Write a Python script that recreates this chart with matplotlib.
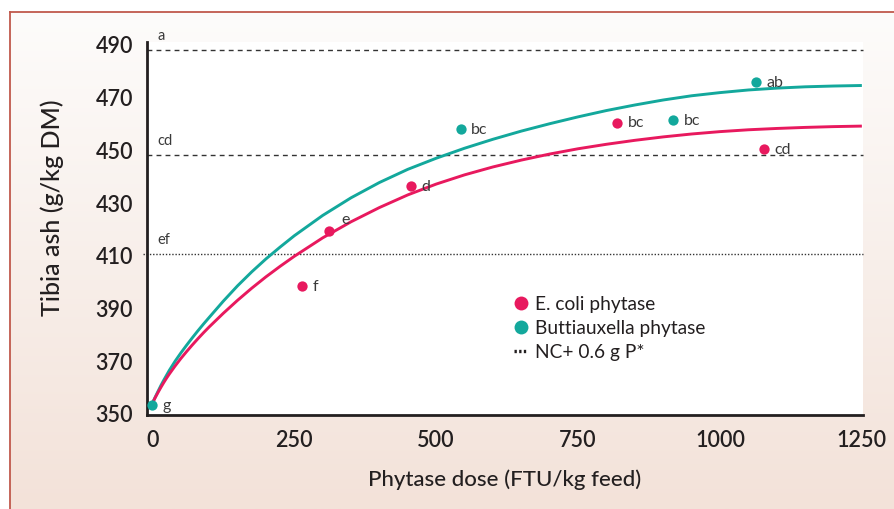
import numpy as np
import matplotlib
matplotlib.use("Agg")
import matplotlib.pyplot as plt
from matplotlib.lines import Line2D
from matplotlib.colors import LinearSegmentedColormap

# ---------------- data ----------------
dose_ecoli = [264, 311, 456, 819, 1077]
ash_ecoli = [398.6, 419.5, 436.5, 460.5, 450.5]
letters_ecoli = ["f", "e", "d", "bc", "cd"]

dose_butti = [0, 543, 918, 1063]
ash_butti = [353.4, 458.1, 461.5, 475.8]
letters_butti = ["g", "bc", "bc", "ab"]

curve_dose = [0, 5, 10, 15, 20, 25, 30, 40, 50, 60, 70, 80, 90, 100, 125, 150,
              175, 200, 225, 250, 300, 350, 400, 450, 500, 550, 600, 650, 700,
              750, 800, 850, 900, 950, 1000, 1050, 1100, 1150, 1200, 1250]
curve_ecoli = [354.1, 356.2, 358.2, 360.1, 361.9, 363.6, 365.2, 368.2, 371.0,
               373.6, 376.1, 378.5, 380.8, 383.0, 388.2, 393.1, 397.7, 402.0,
               406.0, 409.8, 416.8, 422.9, 428.3, 433.1, 437.2, 440.7, 443.7,
               446.3, 448.6, 450.6, 452.3, 453.8, 455.1, 456.2, 457.1, 457.8,
               458.3, 458.7, 459.0, 459.2]
curve_butti = [354.1, 356.4, 358.6, 360.8, 362.8, 364.7, 366.6, 370.0, 373.1,
               376.0, 378.8, 381.5, 384.1, 386.6, 392.8, 398.6, 403.9, 408.8,
               413.3, 417.6, 425.3, 432.0, 437.8, 442.8, 447.0, 450.8, 454.2,
               457.3, 460.1, 462.7, 465.1, 467.2, 469.1, 470.7, 471.9, 472.9,
               473.6, 474.1, 474.4, 474.6]

ref_levels = [488.1, 448.3, 410.6]
ref_letters = ["a", "cd", "ef"]

x_ticks = [0, 250, 500, 750, 1000, 1250]
y_ticks = [350, 370, 390, 410, 430, 450, 470, 490]

legend_labels = ["E. coli phytase", "Buttiauxella phytase", "NC+ 0.6 g P*"]

# ---------------- style ----------------
PINK = "#e8195e"
TEAL = "#13a89c"
TXT = "#231f20"
LBL = "#3a3a3a"
FONT = ["Lato", "DejaVu Sans"]
plt.rcParams["font.family"] = FONT

W, H = 895, 509
fig = plt.figure(figsize=(W / 100, H / 100), dpi=100)
fig.patch.set_facecolor("white")

# background panel with gradient
bx0, by1 = 10, 12
bg = fig.add_axes([bx0 / W, 0, 1 - bx0 / W, 1 - by1 / H], zorder=-10)
cmap = LinearSegmentedColormap.from_list("bgc", ["#fdfcfb", "#f3e2d9"])
grad = np.linspace(0, 1, 256).reshape(-1, 1)
bg.imshow(grad, aspect="auto", cmap=cmap, extent=[0, 1, 0, 1], origin="upper")
bg.set_axis_off()
border_col = "#c0594c"
fig.add_artist(Line2D([bx0 / W, bx0 / W], [0, 1 - by1 / H], transform=fig.transFigure,
                      color=border_col, lw=1.3))
fig.add_artist(Line2D([bx0 / W, 1], [1 - by1 / H, 1 - by1 / H], transform=fig.transFigure,
                      color=border_col, lw=1.3))

# main axes
L, R, T, B = 147, 863, 42, 415
ax = fig.add_axes([L / W, 1 - B / H, (R - L) / W, (B - T) / H], zorder=1)
ax.set_facecolor("white")
ax.set_xlim(-9.5, 1252)
ax.set_ylim(349.6, 491.1)

for s in ["top", "right"]:
    ax.spines[s].set_visible(False)
for s in ["left", "bottom"]:
    ax.spines[s].set_linewidth(2.0)
    ax.spines[s].set_color(TXT)

ax.set_xticks(x_ticks)
ax.set_yticks(y_ticks)
ax.tick_params(axis="both", length=0, labelsize=15.5, colors=TXT)
ax.tick_params(axis="x", pad=11)
ax.tick_params(axis="y", pad=10)
for t in ax.get_xticklabels() + ax.get_yticklabels():
    t.set_fontweight("semibold")

# reference lines
ref_styles = [(0, (3.5, 3.0)), (0, (3.5, 3.0)), (0, (1.0, 1.3))]
for lev, let, ls in zip(ref_levels, ref_letters, ref_styles):
    ax.axhline(lev, xmin=-0.006 if let == "ef" else 0, xmax=1, color="#333333",
               lw=1.0, ls=ls, clip_on=False, zorder=2)
    ax.annotate(let, xy=(0, lev), xycoords=("axes fraction", "data"),
                xytext=(7.5, 10), textcoords="offset points", ha="left", va="center",
                fontsize=10.5, color=LBL, annotation_clip=False)

# curves
ax.plot(curve_dose, curve_butti, color=TEAL, lw=2.1, zorder=3, solid_capstyle="butt",
        solid_joinstyle="round")
ax.plot(curve_dose, curve_ecoli, color=PINK, lw=2.1, zorder=4, solid_capstyle="butt",
        solid_joinstyle="round")

# points
ax.scatter(dose_butti, ash_butti, s=55, color=TEAL, zorder=5, clip_on=False, linewidths=0)
ax.scatter(dose_ecoli, ash_ecoli, s=55, color=PINK, zorder=5, clip_on=False, linewidths=0)

def lab_offset(letter):
    if letter == "e":
        return (9, 8)
    return (7.5, -0.5)

for d, v, t in zip(dose_ecoli, ash_ecoli, letters_ecoli):
    ax.annotate(t, xy=(d, v), xytext=lab_offset(t), textcoords="offset points",
                ha="left", va="center", fontsize=11.5, color=LBL, zorder=6)
for d, v, t in zip(dose_butti, ash_butti, letters_butti):
    ax.annotate(t, xy=(d, v), xytext=lab_offset(t), textcoords="offset points",
                ha="left", va="center", fontsize=11.5, color=LBL, zorder=6)

# axis labels
ax.set_xlabel("Phytase dose (FTU/kg feed)", fontsize=16, color=TXT, fontweight="medium")
ax.xaxis.set_label_coords(0.5, -0.174)
ax.xaxis.label.set_va("center")
ax.set_ylabel("Tibia ash (g/kg DM)", fontsize=18, color=TXT, fontweight="medium")
ax.yaxis.set_label_coords(-0.1327, 0.556)
ax.yaxis.label.set_va("center")

# legend
handles = [
    Line2D([], [], ls="none", marker="o", ms=10, color=PINK, mec="none"),
    Line2D([], [], ls="none", marker="o", ms=10, color=TEAL, mec="none"),
    Line2D([], [], ls=(0, (0.7, 0.7)), lw=2.4, color=TXT),
]
leg = ax.legend(handles, legend_labels, loc="upper left", bbox_to_anchor=(0.5126, 0.319),
                frameon=False, fontsize=13.8, handlelength=0.75, handletextpad=0.35,
                labelspacing=0.37, borderpad=0, borderaxespad=0)
for t in leg.get_texts():
    t.set_color(TXT)

fig.savefig("out.png", dpi=100, facecolor=fig.get_facecolor())
